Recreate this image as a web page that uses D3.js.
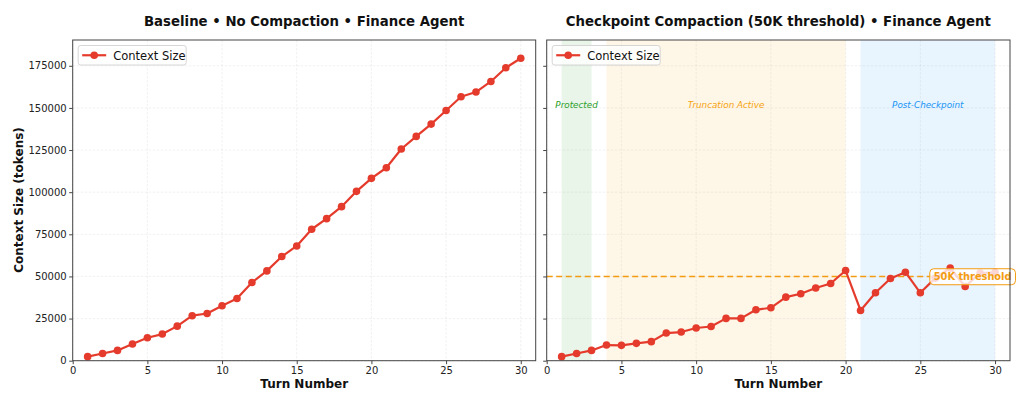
<!DOCTYPE html>
<html>
<head>
<meta charset="utf-8">
<script src="https://cdn.jsdelivr.net/npm/d3@7"></script>
<style>
  html, body { margin: 0; padding: 0; background: #fff; }
  svg { display: block; font-family: "DejaVu Sans", sans-serif; }
</style>
</head>
<body>
<svg id="chart" width="1024" height="405"></svg>
<script>
// ---- data ----
const turns = d3.range(1, 31);
const baselineValues = [2400, 4300, 6100, 9900, 13600, 15800, 20500, 26700, 28000, 32600,
  36900, 46400, 53300, 61800, 68100, 78000, 84300, 91400, 100500, 108200,
  114500, 125600, 133100, 140400, 148500, 156600, 159400, 165700, 173800, 179500];
const compactValues = [2400, 4300, 6100, 9300, 9100, 10300, 11300, 16400, 17000, 19400,
  20300, 25100, 25100, 30200, 31400, 37700, 39700, 43100, 45800, 53500,
  29800, 40300, 48800, 52500, 40300, 49000, 55000, 44000, 52000, 52500];
const xTicks = [0, 5, 10, 15, 20, 25, 30];
const yTicks = [0, 25000, 50000, 75000, 100000, 125000, 150000, 175000];
const titles = ["Baseline \u2022 No Compaction \u2022 Finance Agent",
  "Checkpoint Compaction (50K threshold) \u2022 Finance Agent"];
const seriesName = "Context Size";
const phases = [
  { name: "Protected", start: 1, end: 3, mid: 2, color: "#2ca02c" },
  { name: "Truncation Active", start: 4, end: 20, mid: 12, color: "#f5a30f" },
  { name: "Post-Checkpoint", start: 21, end: 30, mid: 25.5, color: "#2196f3" }
];
const threshold = 50000;
const thresholdLabel = "50K threshold";

// ---- layout ----
const svg = d3.select("#chart");
const lineColor = "#e53b2c";
const plotTop = 40, plotBottom = 360.7;
const panels = [
  { left: 72.7, right: 535.7, values: baselineValues, title: titles[0], showY: true },
  { left: 546.7, right: 1010, values: compactValues, title: titles[1], showY: false }
];
const y = d3.scaleLinear().domain([0, 190300]).range([plotBottom, plotTop]);

panels.forEach((p, i) => {
  const x = d3.scaleLinear().domain([0, 31]).range([p.left, p.right]);
  const g = svg.append("g");

  if (i === 1) {
    phases.forEach(ph => {
      g.append("rect")
        .attr("x", x(ph.start)).attr("y", plotTop)
        .attr("width", x(ph.end) - x(ph.start)).attr("height", plotBottom - plotTop)
        .attr("fill", ph.color).attr("fill-opacity", 0.1);
    });
  }

  // grid
  g.append("g").selectAll("line").data(xTicks).join("line")
    .attr("x1", d => x(d)).attr("x2", d => x(d)).attr("y1", plotTop).attr("y2", plotBottom)
    .attr("stroke", "#b0b0b0").attr("stroke-opacity", 0.22).attr("stroke-width", 0.8)
    .attr("stroke-dasharray", "2.5,1.5");
  g.append("g").selectAll("line").data(yTicks).join("line")
    .attr("x1", p.left).attr("x2", p.right).attr("y1", d => y(d)).attr("y2", d => y(d))
    .attr("stroke", "#b0b0b0").attr("stroke-opacity", 0.22).attr("stroke-width", 0.8)
    .attr("stroke-dasharray", "2.5,1.5");

  if (i === 1) {
    phases.forEach(ph => {
      g.append("text").attr("x", x(ph.mid)).attr("y", y(152000) + 3.5)
        .attr("text-anchor", "middle").attr("font-size", 8.8).attr("font-style", "italic")
        .attr("fill", ph.color).text(ph.name);
    });
    g.append("line").attr("x1", p.left).attr("x2", p.right)
      .attr("y1", y(threshold)).attr("y2", y(threshold))
      .attr("stroke", "#f39c12").attr("stroke-width", 1.6).attr("stroke-dasharray", "6,3.5");
  }

  const line = d3.line().x((d, j) => x(turns[j])).y(d => y(d));
  g.append("path").datum(p.values).attr("d", line)
    .attr("fill", "none").attr("stroke", lineColor).attr("stroke-width", 2.2)
    .attr("stroke-linejoin", "round");
  g.append("g").selectAll("circle").data(p.values).join("circle")
    .attr("cx", (d, j) => x(turns[j])).attr("cy", d => y(d)).attr("r", 3.8)
    .attr("fill", lineColor);

  if (i === 1) {
    const tg = g.append("g");
    const t = tg.append("text").attr("x", x(28.5)).attr("y", y(threshold) + 3.8)
      .attr("text-anchor", "middle").attr("font-size", 9.8).attr("font-weight", "bold")
      .attr("fill", "#f39c12").text(thresholdLabel);
    const bb = t.node().getBBox();
    tg.insert("rect", "text").attr("x", bb.x - 4).attr("y", bb.y - 2.5)
      .attr("width", bb.width + 8).attr("height", bb.height + 5).attr("rx", 4)
      .attr("fill", "#fff").attr("fill-opacity", 0.8)
      .attr("stroke", "#f39c12").attr("stroke-width", 1);
  }

  g.append("rect").attr("x", p.left).attr("y", plotTop)
    .attr("width", p.right - p.left).attr("height", plotBottom - plotTop)
    .attr("fill", "none").attr("stroke", "#444").attr("stroke-width", 1);

  const xa = g.append("g").attr("transform", `translate(0,${plotBottom})`)
    .call(d3.axisBottom(x).tickValues(xTicks).tickSize(3.5).tickPadding(2.5));
  xa.select(".domain").remove();
  xa.selectAll("line").attr("stroke", "#444");
  xa.selectAll("text").attr("font-size", 10).attr("fill", "#222").attr("font-family", "DejaVu Sans");

  const ya = g.append("g").attr("transform", `translate(${p.left},0)`)
    .call(d3.axisLeft(y).tickValues(yTicks).tickSize(3.5).tickPadding(2.5)
      .tickFormat(p.showY ? d3.format("d") : () => ""));
  ya.select(".domain").remove();
  ya.selectAll("line").attr("stroke", "#444");
  ya.selectAll("text").attr("font-size", 10).attr("fill", "#222").attr("font-family", "DejaVu Sans");

  svg.append("text").attr("x", (p.left + p.right) / 2).attr("y", 26)
    .attr("text-anchor", "middle").attr("font-size", 13.3).attr("font-weight", "bold")
    .attr("fill", "#111").text(p.title);
  svg.append("text").attr("x", (p.left + p.right) / 2).attr("y", 388)
    .attr("text-anchor", "middle").attr("font-size", 12).attr("font-weight", "bold")
    .attr("fill", "#111").text("Turn Number");

  const lx = p.left + 5.5, ly = plotTop + 5.5;
  const lg = g.append("g");
  lg.append("rect").attr("x", lx).attr("y", ly).attr("width", 108).attr("height", 19.5)
    .attr("rx", 2.5).attr("fill", "#fff").attr("fill-opacity", 0.8)
    .attr("stroke", "#ccc").attr("stroke-width", 0.8);
  lg.append("line").attr("x1", lx + 4).attr("x2", lx + 28).attr("y1", ly + 9.75).attr("y2", ly + 9.75)
    .attr("stroke", lineColor).attr("stroke-width", 2.2);
  lg.append("circle").attr("cx", lx + 16).attr("cy", ly + 9.75).attr("r", 3.8).attr("fill", lineColor);
  lg.append("text").attr("x", lx + 35).attr("y", ly + 14).attr("font-size", 11.5)
    .attr("fill", "#111").text(seriesName);
});

svg.append("text").attr("transform", "translate(23,200) rotate(-90)")
  .attr("text-anchor", "middle").attr("font-size", 12).attr("font-weight", "bold")
  .attr("fill", "#111").text("Context Size (tokens)");
</script>
</body>
</html>
